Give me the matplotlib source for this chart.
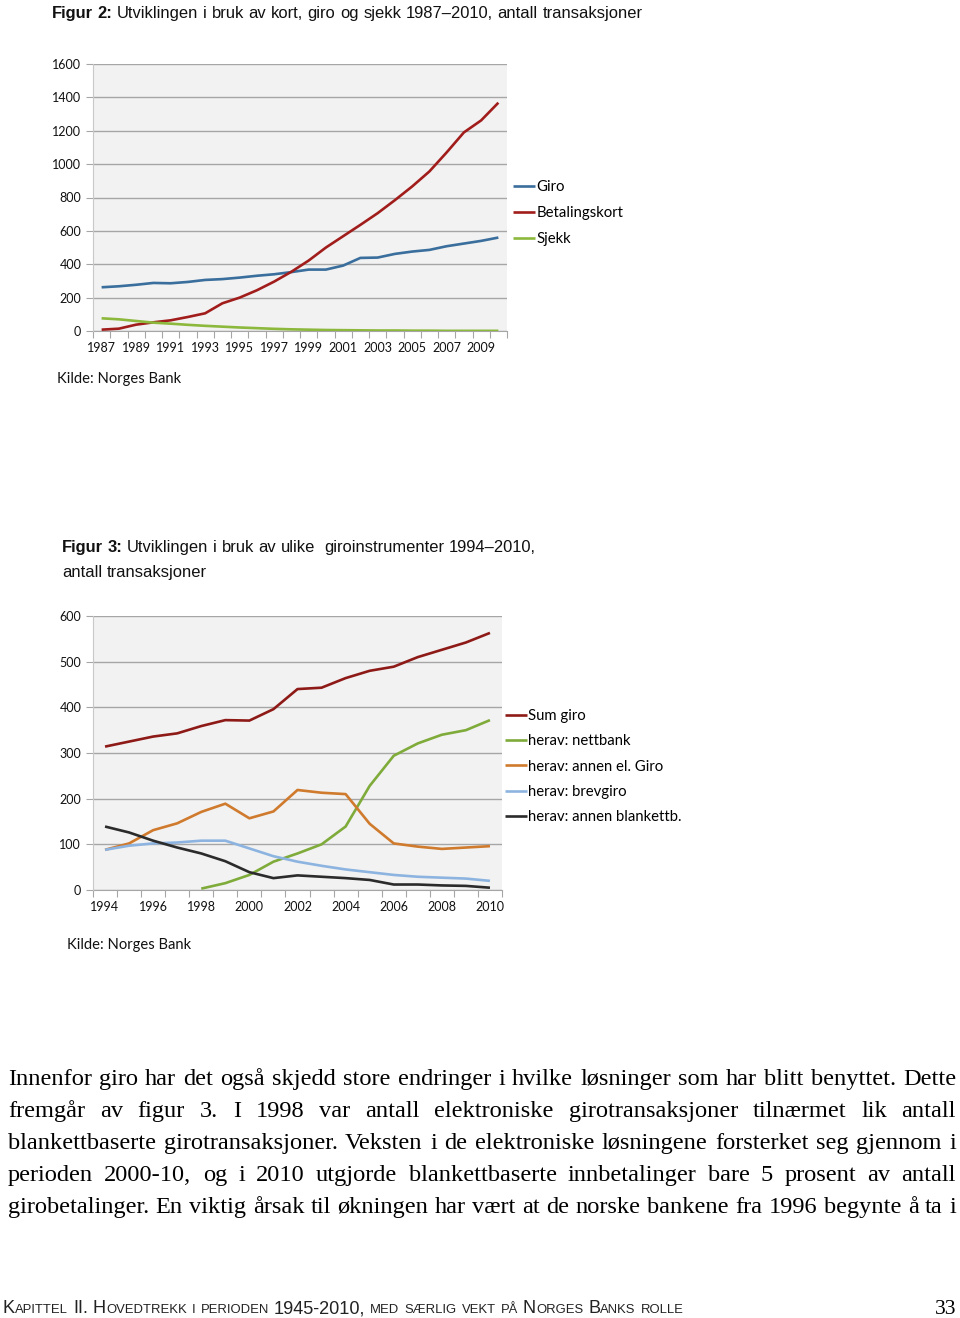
import matplotlib
matplotlib.use('Agg')
import matplotlib.pyplot as plt
import numpy as np

# ---------------- data ----------------
years2 = list(range(1987, 2011))
giro = [262, 268, 277, 288, 286, 294, 306, 311, 320, 331, 340, 353, 368, 368,
        392, 438, 440, 462, 476, 486, 508, 524, 540, 560]
betalingskort = [8, 14, 38, 52, 64, 84, 106, 166, 200, 244, 296, 355, 422, 500,
                 568, 636, 706, 784, 866, 956, 1070, 1190, 1262, 1368]
sjekk = [76, 70, 60, 50, 44, 37, 31, 26, 21, 17, 13, 10, 8, 6, 5, 4, 3, 3, 2, 2,
         1, 1, 1, 1]
labels2 = ['Giro', 'Betalingskort', 'Sjekk']

years3 = list(range(1994, 2011))
sum_giro = [314, 325, 336, 343, 359, 372, 371, 396, 440, 443, 464, 480, 489,
            510, 526, 542, 563]
nettbank = [np.nan, np.nan, np.nan, np.nan, 3, 15, 33, 62, 80, 100, 139, 228,
            294, 321, 340, 350, 372]
annen_el = [88, 102, 131, 146, 171, 189, 157, 172, 219, 213, 210, 145, 102, 95,
            90, 93, 96]
brevgiro = [88, 97, 102, 104, 108, 108, 91, 74, 62, 53, 45, 39, 33, 29, 27, 25, 20]
annen_blankett = [139, 126, 108, 93, 80, 63, 39, 26, 32, 29, 26, 22, 12, 12, 10,
                  9, 5]
labels3 = ['Sum giro', 'herav: nettbank', 'herav: annen el. Giro',
           'herav: brevgiro', 'herav: annen blankettb.']

title2_bold = 'Figur 2:'
title2_rest = ' Utviklingen i bruk av kort, giro og sjekk 1987\u20132010, antall transaksjoner'
title3_bold = 'Figur 3:'
title3_rest1 = ' Utviklingen i bruk av ulike  giroinstrumenter 1994\u20132010,'
title3_rest2 = 'antall transaksjoner'
source = 'Kilde: Norges Bank'

body_lines = [
    'Innenfor giro har det også skjedd store endringer i hvilke løsninger som har blitt benyttet.  Dette',
    'fremgår av figur 3. I 1998 var antall elektroniske girotransaksjoner tilnærmet lik antall',
    'blankettbaserte girotransaksjoner. Veksten i de elektroniske løsningene forsterket seg gjennom i',
    'perioden 2000-10, og i 2010 utgjorde blankettbaserte innbetalinger bare 5 prosent av antall',
    'girobetalinger. En viktig årsak til økningen har vært at de norske bankene fra 1996 begynte å ta i',
]
footer = 'Kapittel II. Hovedtrekk i perioden 1945-2010, med særlig vekt på Norges Banks rolle'
page_no = '33'

# ---------------- figure ----------------
W, H = 960, 1318
fig = plt.figure(figsize=(W / 100, H / 100), dpi=100)
renderer = fig.canvas.get_renderer()

def fx(px):
    return px / W

def fy(py):
    return 1 - py / H

CHART_FONT = ['Lato', 'DejaVu Sans']
TITLE_FONT = ['Liberation Sans Narrow', 'Liberation Sans', 'DejaVu Sans']
SERIF = ['Liberation Serif', 'DejaVu Serif']
FOOT_FONT = ['Liberation Sans', 'DejaVu Sans']

def add_ax(left, top, right, bottom):
    return fig.add_axes([fx(left), fy(bottom), fx(right - left), (bottom - top) / H])

def style(ax, years, every, ymax, ystep):
    n = len(years)
    ax.set_facecolor('#f2f2f2')
    ax.set_xlim(-0.5, n - 0.5)
    ax.set_ylim(0, ymax)
    ax.set_yticks(np.arange(0, ymax + 1, ystep))
    ax.yaxis.grid(True, color='#a6a6a6', lw=1.0)
    ax.set_axisbelow(True)
    for s in ['top', 'right']:
        ax.spines[s].set_visible(False)
    ax.spines['left'].set_color('#c8c8c8')
    ax.spines['bottom'].set_color('#a6a6a6')
    ax.spines['bottom'].set_zorder(0.5)
    ax.tick_params(axis='y', length=5, color='#a6a6a6', labelsize=9, pad=3.5,
                   labelcolor='#111111')
    ax.set_xticks(np.arange(-0.5, n, 1))
    ax.set_xticklabels([])
    idx = np.arange(0, n, every)
    ax.set_xticks(idx, minor=True)
    ax.set_xticklabels([str(years[i]) for i in idx], minor=True)
    ax.tick_params(axis='x', which='major', length=5, color='#a6a6a6')
    ax.tick_params(axis='x', which='minor', length=0, labelsize=9, pad=8,
                   labelcolor='#111111')
    for lab in ax.get_xticklabels(minor=True) + ax.get_yticklabels():
        lab.set_fontfamily(CHART_FONT)

LW = 1.9
LEG_FS = 10.7

# ---- Figure 2 ----
ax1 = add_ax(93, 64, 507, 331)
x2 = np.arange(len(years2))
c2 = ['#3a6e9c', '#a11d1b', '#8cb83c']
for vals, col, lab in zip([giro, betalingskort, sjekk], c2, labels2):
    ax1.plot(x2, vals, color=col, lw=LW, label=lab, solid_capstyle='butt')
style(ax1, years2, 2, 1600, 200)
leg1 = fig.legend(handles=ax1.get_lines(), labels=labels2, loc='upper left',
                  bbox_to_anchor=(fx(513), fy(180)), frameon=False,
                  borderaxespad=0, borderpad=0, handlelength=1.5,
                  handletextpad=0.07, labelspacing=0.80,
                  prop={'family': CHART_FONT, 'size': LEG_FS})

# ---- Figure 3 ----
ax2 = add_ax(93, 616, 502, 890)
x3 = np.arange(len(years3))
c3 = ['#8e1a17', '#7fab3a', '#cf7a2c', '#8db4e0', '#2b2b2b']
for vals, col, lab in zip([sum_giro, nettbank, annen_el, brevgiro, annen_blankett], c3, labels3):
    ax2.plot(x3, vals, color=col, lw=LW, label=lab, solid_capstyle='butt')
style(ax2, years3, 2, 600, 100)
leg2 = fig.legend(handles=ax2.get_lines(), labels=labels3, loc='upper left',
                  bbox_to_anchor=(fx(505), fy(709)), frameon=False,
                  borderaxespad=0, borderpad=0, handlelength=1.5,
                  handletextpad=0.07, labelspacing=0.76,
                  prop={'family': CHART_FONT, 'size': LEG_FS})

# ---------------- text helpers ----------------
def width_of(txt, **kw):
    t = fig.text(0, 0, txt, **kw)
    w = t.get_window_extent(renderer).width
    t.remove()
    return w

def run_seq(x, y, runs):
    for txt, kw in runs:
        parts = txt.split(' ')
        sp = width_of('a a', **kw) - width_of('aa', **kw)
        for i, p in enumerate(parts):
            if p:
                fig.text(fx(x), fy(y), p, va='baseline', ha='left', **kw)
                x += width_of(p, **kw)
            if i < len(parts) - 1:
                x += sp
    return x

TS = 11.9
tb = dict(family=TITLE_FONT, size=TS, weight='bold', color='#111111')
tr = dict(family=TITLE_FONT, size=TS, color='#111111')
run_seq(52, 18, [(title2_bold, tb), (title2_rest, tr)])
run_seq(62, 552, [(title3_bold, tb), (title3_rest1, tr)])
run_seq(62, 577, [(title3_rest2, tr)])

src = dict(family=CHART_FONT, size=10.6, color='#111111')
fig.text(fx(57), fy(383), source, va='baseline', ha='left', **src)
fig.text(fx(67), fy(949), source, va='baseline', ha='left', **src)

# ---- body text, justified ----
L, R = 8, 956
base = dict(family=SERIF, size=10, color='black')
nat = [sum(width_of(w, **base) for w in ln.split()) +
       (len(ln.split()) - 1) * (width_of('a a', **base) - width_of('aa', **base))
       for ln in body_lines]
fs = 10 * (R - L) / max(nat) * 0.995
bk = dict(family=SERIF, size=fs, color='black')
for i, ln in enumerate(body_lines):
    words = ln.split()
    ws = [width_of(w, **bk) for w in words]
    gap = (R - L - sum(ws)) / (len(words) - 1)
    x = L
    yb = 1085 + 32 * i
    for w, wd in zip(words, ws):
        fig.text(fx(x), fy(yb), w, va='baseline', ha='left', **bk)
        x += wd + gap

# ---- footer in small caps ----
big = 13.1
small = 9.4
runs = []
for ch in footer:
    if ch.islower():
        seg, sz = ch.upper(), small
    else:
        seg, sz = ch, big
    if runs and runs[-1][1] == sz:
        runs[-1][0] += seg
    else:
        runs.append([seg, sz])
x = 3
for seg, sz in runs:
    kw = dict(family=FOOT_FONT, size=sz, color='#222222')
    x = run_seq(x, 1313, [(seg, kw)])
fig.text(fx(956), fy(1314), page_no, va='baseline', ha='right',
         family=SERIF, size=15.5, color='black')

fig.savefig('out.png', dpi=100)
